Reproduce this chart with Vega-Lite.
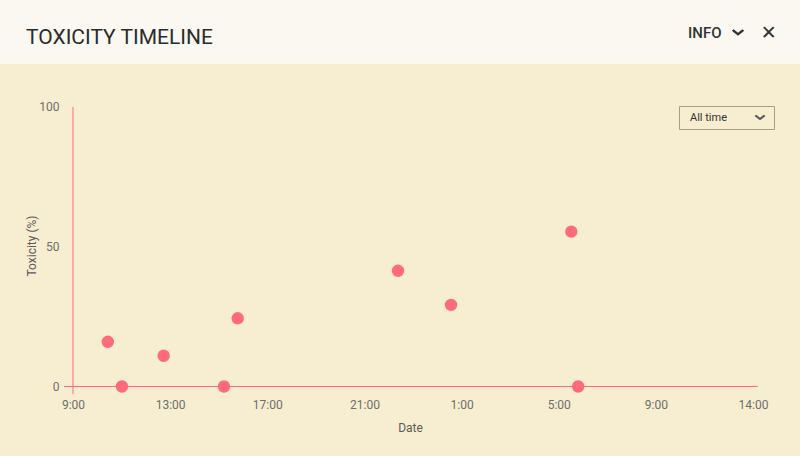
{
  "$schema": "https://vega.github.io/schema/vega-lite/v6.json",
  "width": 800,
  "height": 392,
  "autosize": {"type": "none"},
  "padding": {"top": 64, "left": 0, "right": 0, "bottom": 0},
  "background": "#faf8f1",
  "config": {
    "view": {"fill": "#f7edd1", "stroke": null},
    "font": "Roboto"
  },
  "title": {
    "text": "TOXICITY TIMELINE",
    "anchor": "start",
    "frame": "group",
    "dx": 26,
    "offset": -39.5,
    "baseline": "alphabetic",
    "font": "Roboto",
    "fontSize": 21,
    "fontWeight": "normal",
    "color": "#2b2b2b"
  },
  "datasets": {
    "readings": [
      {"date": "2021-03-01T10:26:00Z", "toxicity": 16.0},
      {"date": "2021-03-01T11:01:00Z", "toxicity": 0},
      {"date": "2021-03-01T12:44:00Z", "toxicity": 11.0},
      {"date": "2021-03-01T15:13:00Z", "toxicity": 0},
      {"date": "2021-03-01T15:47:00Z", "toxicity": 24.4},
      {"date": "2021-03-01T22:23:00Z", "toxicity": 41.4},
      {"date": "2021-03-02T00:34:00Z", "toxicity": 29.2},
      {"date": "2021-03-02T05:31:00Z", "toxicity": 55.4},
      {"date": "2021-03-02T05:48:00Z", "toxicity": 0}
    ],
    "vertical_axis": [
      {"date": "2021-03-01T09:00:00Z", "from": -2.7, "to": 100}
    ],
    "baseline": [
      {"start": "2021-03-01T08:37:46Z", "end": "2021-03-02T13:11:36Z", "toxicity": 0}
    ],
    "controls": []
  },
  "layer": [
    {
      "data": {"name": "vertical_axis"},
      "mark": {"type": "rule", "color": "#ff6b7b", "strokeWidth": 1},
      "encoding": {
        "x": {
          "field": "date", "type": "temporal",
          "scale": {"type": "utc", "domain": [
            {"year": 2021, "month": 3, "date": 1, "hours": 5, "minutes": 59, "seconds": 39, "utc": true},
            {"year": 2021, "month": 3, "date": 2, "hours": 14, "minutes": 56, "seconds": 6, "utc": true}
          ]}
        },
        "y": {"field": "from", "type": "quantitative",
              "scale": {"domain": [-24.87, 115.38], "nice": false, "zero": false}},
        "y2": {"field": "to"}
      }
    },
    {
      "data": {"name": "baseline"},
      "mark": {"type": "rule", "color": "#ff6b7b", "strokeWidth": 1},
      "encoding": {
        "x": {"field": "start", "type": "temporal"},
        "x2": {"field": "end"},
        "y": {"field": "toxicity", "type": "quantitative"}
      }
    },
    {
      "data": {"name": "readings"},
      "mark": {"type": "point", "filled": true, "size": 154, "opacity": 1, "color": "#ff6b7b"},
      "encoding": {
        "x": {
          "field": "date", "type": "temporal", "title": "Date",
          "axis": {
            "orient": "bottom",
            "offset": -69.5,
            "domain": false, "ticks": false, "grid": false,
            "values": [
              {"year": 2021, "month": 3, "date": 1, "hours": 9, "utc": true},
              {"year": 2021, "month": 3, "date": 1, "hours": 13, "utc": true},
              {"year": 2021, "month": 3, "date": 1, "hours": 17, "utc": true},
              {"year": 2021, "month": 3, "date": 1, "hours": 21, "utc": true},
              {"year": 2021, "month": 3, "date": 2, "hours": 1, "utc": true},
              {"year": 2021, "month": 3, "date": 2, "hours": 5, "utc": true},
              {"year": 2021, "month": 3, "date": 2, "hours": 9, "utc": true},
              {"year": 2021, "month": 3, "date": 2, "hours": 13, "utc": true}
            ],
            "labelExpr": "datum.index == 1 ? '14:00' : utcFormat(datum.value, '%-H:%M')",
            "labelFont": "Roboto", "labelFontSize": 12, "labelColor": "#6e6e6e",
            "labelPadding": 13,
            "titleFont": "Roboto", "titleFontSize": 12, "titleFontWeight": "normal", "titleColor": "#5a5a5a",
            "titleX": 410, "titleY": 44.5, "titleBaseline": "alphabetic", "titleAlign": "center"
          }
        },
        "y": {
          "field": "toxicity", "type": "quantitative", "title": "Toxicity (%)",
          "axis": {
            "orient": "left",
            "offset": -73,
            "domain": false, "ticks": false, "grid": false,
            "values": [0, 50, 100],
            "labelFont": "Roboto", "labelFontSize": 12, "labelColor": "#6e6e6e",
            "labelPadding": 14,
            "titleFont": "Roboto", "titleFontSize": 12, "titleFontWeight": "normal", "titleColor": "#5a5a5a",
            "titleAngle": -90, "titleX": -41.5, "titleY": 181.5, "titleBaseline": "middle", "titleAlign": "center"
          }
        }
      }
    },
    {
      "data": {"name": "controls"},
      "mark": {"type": "point", "filled": true, "opacity": 1, "color": "#555555"},
      "encoding": {
        "x": {"field": "date", "type": "temporal"},
        "opacity": {
          "field": "range", "type": "nominal",
          "scale": {"domain": ["All time"], "range": [1, 1]},
          "legend": {
            "title": null,
            "orient": "none", "legendX": 679, "legendY": 42,
            "strokeColor": "#a69f86", "padding": 6,
            "labelFont": "Roboto", "labelFontSize": 11, "labelColor": "#333333",
            "symbolType": "M-1,-0.28L-0.7,-0.52L0,0.04L0.7,-0.52L1,-0.28L0,0.52ZM1.45,0",
            "symbolSize": 121, "symbolOffset": 69.5, "labelOffset": -75.5,
            "symbolStrokeWidth": 0
          }
        }
      }
    },
    {
      "data": {"name": "controls"},
      "mark": {"type": "point", "filled": true, "opacity": 1, "color": "#333333"},
      "encoding": {
        "x": {"field": "date", "type": "temporal"},
        "size": {
          "field": "menu", "type": "nominal",
          "scale": {"domain": ["INFO"], "range": [154, 154]},
          "legend": {
            "title": "✕", "titleOrient": "right",
            "titleFont": "DejaVu Sans", "titleFontSize": 19, "titleFontWeight": "bold", "titleColor": "#333333",
            "titlePadding": 16.8, "titleBaseline": "middle",
            "orient": "none", "legendX": 680, "legendY": -39,
            "padding": 0,
            "labelFont": "Roboto", "labelFontSize": 15, "labelFontWeight": 500, "labelColor": "#333333",
            "symbolType": "M-1,-0.28L-0.7,-0.52L0,0.04L0.7,-0.52L1,-0.28L0,0.52Z",
            "symbolOffset": 50.5, "labelOffset": -57.5,
            "symbolOpacity": 1,
            "symbolStrokeWidth": 0
          }
        }
      }
    }
  ]
}
